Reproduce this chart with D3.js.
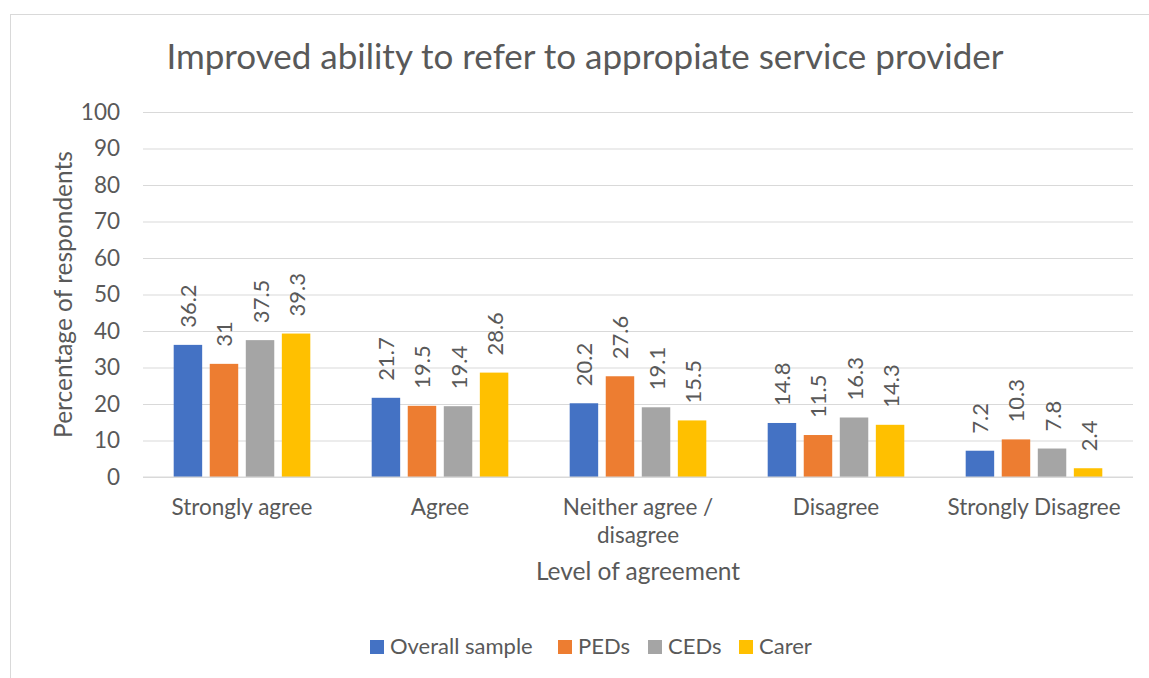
<!DOCTYPE html>
<html>
<head>
<meta charset="utf-8">
<script src="https://cdn.jsdelivr.net/npm/d3@7"></script>
<style>
  body { margin: 0; background: #fff; }
  text { font-family: Lato, "Open Sans", sans-serif; fill: #595959; }
</style>
</head>
<body>
<div id="chart"></div>
<script>
// Chart data
var categories = ["Strongly agree", "Agree", "Neither agree / disagree", "Disagree", "Strongly Disagree"];
var seriesNames = ["Overall sample", "PEDs", "CEDs", "Carer"];
var overallSample = [36.2, 21.7, 20.2, 14.8, 7.2];
var peds = [31, 19.5, 27.6, 11.5, 10.3];
var ceds = [37.5, 19.4, 19.1, 16.3, 7.8];
var carer = [39.3, 28.6, 15.5, 14.3, 2.4];
var yTicks = [0, 10, 20, 30, 40, 50, 60, 70, 80, 90, 100];

var seriesValues = [overallSample, peds, ceds, carer];
var colors = ["#4472C4", "#ED7D31", "#A5A5A5", "#FFC000"];

// Set up the svg params
var svgWidth = 1149;
var svgHeight = 678;

var margin = {
    top: 112,
    right: 16,
    bottom: 201,
    left: 143
};

var width = svgWidth - margin.left - margin.right;
var height = svgHeight - margin.top - margin.bottom;

var svg = d3.select("#chart").append("svg")
    .attr("width", svgWidth)
    .attr("height", svgHeight);

// chart frame
svg.append("rect")
    .attr("x", 10.5)
    .attr("y", 14.5)
    .attr("width", 1160)
    .attr("height", 700)
    .attr("fill", "none")
    .attr("stroke", "#D9D9D9");

var chartGroup = svg.append("g")
    .attr("transform", `translate(${margin.left}, ${margin.top})`);

// Scales
var x0 = d3.scaleBand()
    .domain(categories)
    .range([0, width])
    .paddingInner(0.31)
    .paddingOuter(0.155);

var x1 = d3.scaleBand()
    .domain(seriesNames)
    .range([0, x0.bandwidth()])
    .paddingInner(0.21);

var yLinearScale = d3.scaleLinear()
    .domain([0, 100])
    .range([height, 0]);

// Gridlines + y labels
var leftAxis = d3.axisLeft(yLinearScale)
    .tickValues(yTicks)
    .tickSize(-width)
    .tickPadding(23);

var yAxis = chartGroup.append("g").call(leftAxis);
yAxis.select(".domain").remove();
yAxis.selectAll("line").attr("stroke", "#D9D9D9");
yAxis.selectAll("text")
    .style("font-size", "22.5px")
    .attr("fill", "#595959");

// Bars
var data = [];
categories.forEach((c, i) => {
    seriesNames.forEach((s, j) => {
        data.push({ category: c, series: s, value: seriesValues[j][i], color: colors[j] });
    });
});

var barGroup = chartGroup.selectAll(".bar")
    .data(data)
    .enter()
    .append("g");

barGroup.append("rect")
    .attr("x", d => x0(d.category) + x1(d.series))
    .attr("y", d => yLinearScale(d.value))
    .attr("width", x1.bandwidth())
    .attr("height", d => height - yLinearScale(d.value))
    .attr("fill", d => d.color);

barGroup.append("text")
    .attr("transform", d => `translate(${x0(d.category) + x1(d.series) + x1.bandwidth() / 2}, ${yLinearScale(d.value) - 17}) rotate(-90)`)
    .attr("dominant-baseline", "central")
    .style("font-size", "22px")
    .text(d => d.value);

// x axis baseline redraw (0 line)
chartGroup.append("line")
    .attr("x1", 0)
    .attr("x2", width)
    .attr("y1", height)
    .attr("y2", height)
    .attr("stroke", "#D9D9D9");

// x category labels
var xLabels = chartGroup.selectAll(".xlabel")
    .data(categories)
    .enter()
    .append("text")
    .attr("x", d => x0(d) + x0.bandwidth() / 2)
    .attr("y", height + 38)
    .attr("text-anchor", "middle")
    .style("font-size", "22.5px");

xLabels.each(function(d) {
    var lines = d === "Neither agree / disagree" ? ["Neither agree /", "disagree"] : [d];
    var t = d3.select(this);
    lines.forEach((l, k) => {
        t.append("tspan")
            .attr("x", x0(d) + x0.bandwidth() / 2)
            .attr("dy", k === 0 ? 0 : 28)
            .text(l);
    });
});

// axis titles
chartGroup.append("text")
    .attr("x", width / 2)
    .attr("y", height + 103)
    .attr("text-anchor", "middle")
    .style("font-size", "24.5px")
    .text("Level of agreement");

chartGroup.append("text")
    .attr("transform", `translate(${72 - margin.left}, ${height / 2}) rotate(-90)`)
    .attr("text-anchor", "middle")
    .style("font-size", "24.5px")
    .text("Percentage of respondents");

// title
svg.append("text")
    .attr("x", 585)
    .attr("y", 69)
    .attr("text-anchor", "middle")
    .style("font-size", "35px")
    .text("Improved ability to refer to appropiate service provider");

// legend
var legendX = [370, 558, 648, 739];
var legend = svg.selectAll(".legend")
    .data(seriesNames)
    .enter()
    .append("g")
    .attr("transform", (d, i) => `translate(${legendX[i]}, 640)`);

legend.append("rect")
    .attr("width", 14)
    .attr("height", 14)
    .attr("fill", (d, i) => colors[i]);

legend.append("text")
    .attr("x", 20)
    .attr("y", 14)
    .style("font-size", "22px")
    .text(d => d);
</script>
</body>
</html>
